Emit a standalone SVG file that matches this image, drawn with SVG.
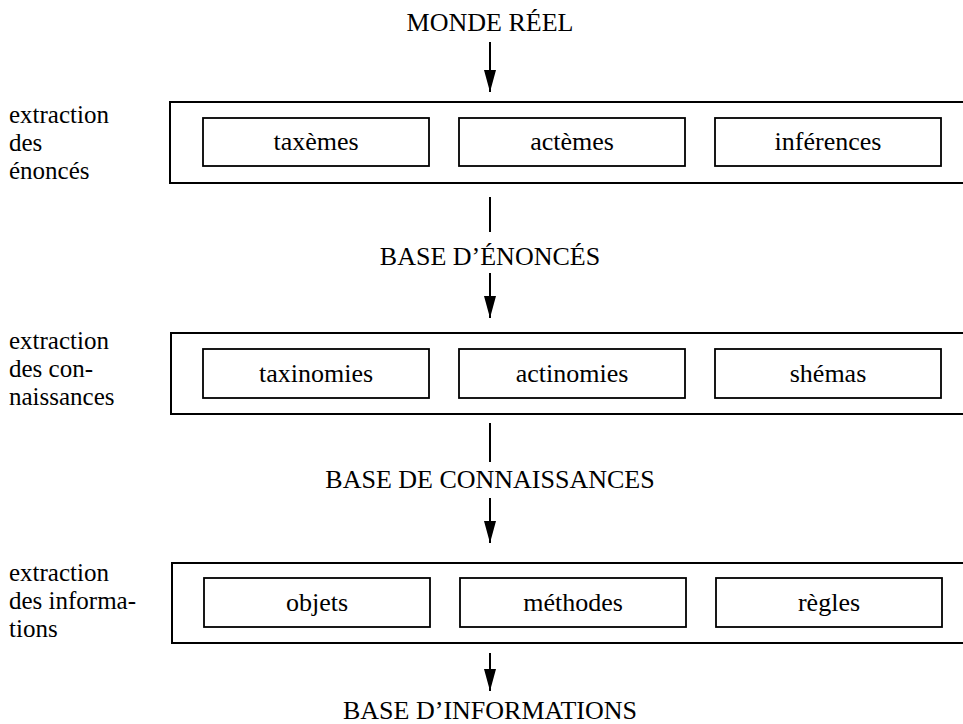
<svg xmlns="http://www.w3.org/2000/svg" width="963" height="724" viewBox="0 0 963 724">
<style>
  text { font-family: "Liberation Serif", "DejaVu Serif", "Times New Roman", serif; font-size: 26px; fill: #000; }
  .c { text-anchor: middle; }
  .lab { font-size: 25px; }
  .outer { fill: none; stroke: #000; stroke-width: 2; }
  .inner { fill: none; stroke: #000; stroke-width: 1.8; }
  .ln { stroke: #000; stroke-width: 2; fill: none; }
</style>
<defs>
  <marker id="ah" markerWidth="22" markerHeight="12" refX="22" refY="6" orient="auto" markerUnits="userSpaceOnUse" viewBox="0 0 22 12">
    <path d="M0,0 L22,6 L0,12 Z" fill="#000"/>
  </marker>
</defs>
<rect width="963" height="724" fill="#fff"/>

<g id="connectors">
  <line class="ln" x1="490" y1="42" x2="490" y2="92" marker-end="url(#ah)"/>
  <line class="ln" x1="490" y1="197" x2="490" y2="232"/>
  <line class="ln" x1="490" y1="273" x2="490" y2="318" marker-end="url(#ah)"/>
  <line class="ln" x1="490" y1="423" x2="490" y2="462"/>
  <line class="ln" x1="490" y1="498" x2="490" y2="543" marker-end="url(#ah)"/>
  <line class="ln" x1="490" y1="653" x2="490" y2="691" marker-end="url(#ah)"/>
</g>

<g id="monde-reel"><text class="c" x="490" y="31">MONDE RÉEL</text></g>

<g id="stage1">
  <rect class="outer" x="170" y="102" width="800" height="81"/>
  <text class="lab" x="9" y="123">extraction</text>
  <text class="lab" x="9" y="151">des</text>
  <text class="lab" x="9" y="179">énoncés</text>
  <g id="taxemes"><rect class="inner" x="203" y="118" width="226" height="48"/><text class="c" x="316" y="150">taxèmes</text></g>
  <g id="actemes"><rect class="inner" x="459" y="118" width="226" height="48"/><text class="c" x="572" y="150">actèmes</text></g>
  <g id="inferences"><rect class="inner" x="715" y="118" width="226" height="48"/><text class="c" x="828" y="150">inférences</text></g>
</g>

<g id="base-enonces"><text class="c" x="490" y="265">BASE D’ÉNONCÉS</text></g>

<g id="stage2">
  <rect class="outer" x="171" y="333" width="800" height="81"/>
  <text class="lab" x="9" y="349">extraction</text>
  <text class="lab" x="9" y="377">des con-</text>
  <text class="lab" x="9" y="405">naissances</text>
  <g id="taxinomies"><rect class="inner" x="203" y="349" width="226" height="49"/><text class="c" x="316" y="382">taxinomies</text></g>
  <g id="actinomies"><rect class="inner" x="459" y="349" width="226" height="49"/><text class="c" x="572" y="382">actinomies</text></g>
  <g id="shemas"><rect class="inner" x="715" y="349" width="226" height="49"/><text class="c" x="828" y="382">shémas</text></g>
</g>

<g id="base-connaissances"><text class="c" x="490" y="488">BASE DE CONNAISSANCES</text></g>

<g id="stage3">
  <rect class="outer" x="172" y="563" width="800" height="80"/>
  <text class="lab" x="9" y="581">extraction</text>
  <text class="lab" x="9" y="609">des informa-</text>
  <text class="lab" x="9" y="637">tions</text>
  <g id="objets"><rect class="inner" x="204" y="578" width="226" height="49"/><text class="c" x="317" y="611">objets</text></g>
  <g id="methodes"><rect class="inner" x="460" y="578" width="226" height="49"/><text class="c" x="573" y="611">méthodes</text></g>
  <g id="regles"><rect class="inner" x="716" y="578" width="226" height="49"/><text class="c" x="829" y="611">règles</text></g>
</g>

<g id="base-informations"><text class="c" x="490" y="719">BASE D’INFORMATIONS</text></g>
</svg>
